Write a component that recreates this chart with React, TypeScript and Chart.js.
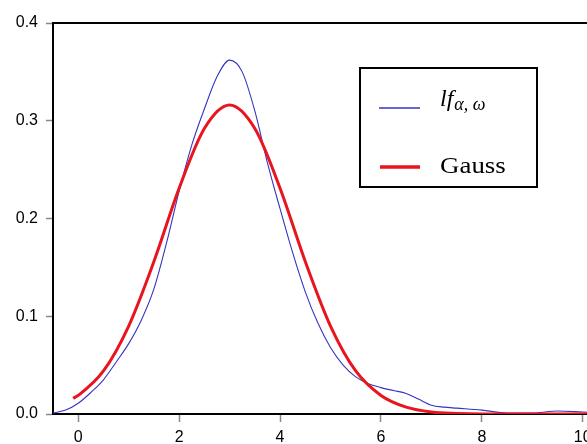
import React, { useEffect, useRef } from "react";
import { Chart, registerables } from "chart.js";

Chart.register(...registerables);

// lf_{α,ω} series (blue, thin)
const lfX = [-0.5, -0.25, 0, 0.25, 0.5, 0.75, 1, 1.25, 1.5, 1.75, 2, 2.25, 2.5, 2.75, 3, 3.25, 3.5, 3.75, 4, 4.25, 4.5, 4.75, 5, 5.25, 5.5, 5.75, 6, 6.25, 6.5, 6.75, 7, 7.25, 7.5, 8, 8.5, 9, 9.5, 10, 10.5];
const lfY = [0.001, 0.004, 0.011, 0.022, 0.035, 0.053, 0.072, 0.096, 0.128, 0.175, 0.228, 0.275, 0.312, 0.345, 0.362, 0.35, 0.31, 0.257, 0.21, 0.165, 0.125, 0.093, 0.068, 0.05, 0.038, 0.031, 0.027, 0.024, 0.021, 0.015, 0.009, 0.007, 0.006, 0.004, 0.001, 0.001, 0.003, 0.002, 0.001];

// Gauss series (red, thick)
const gaussX = [-0.1, 0, 0.5, 1, 1.5, 2, 2.5, 3, 3.5, 4, 4.5, 5, 5.5, 6, 6.5, 7, 7.5, 8, 9, 10, 10.5];
const gaussY = [0.016, 0.019, 0.044, 0.09, 0.156, 0.231, 0.292, 0.316, 0.292, 0.231, 0.156, 0.09, 0.044, 0.019, 0.007, 0.002, 0.0005, 0, 0, 0, 0];

const xTicks = [0, 2, 4, 6, 8, 10];
const yTicks = [0, 0.1, 0.2, 0.3, 0.4];

const legendLabels = { main: "lf", sub: "α, ω", gauss: "Gauss" };

const framePlugin = {
  id: "frame",
  afterDraw(chart: any) {
    const { ctx, chartArea } = chart;
    ctx.save();
    // top border line
    ctx.strokeStyle = "#000";
    ctx.lineWidth = 2;
    ctx.beginPath();
    ctx.moveTo(chartArea.left, chartArea.top);
    ctx.lineTo(chartArea.right, chartArea.top);
    ctx.stroke();

    // legend box
    const bx = 360, by = 68, bw = 177, bh = 119;
    ctx.fillStyle = "#fff";
    ctx.fillRect(bx, by, bw, bh);
    ctx.lineWidth = 2;
    ctx.strokeStyle = "#000";
    ctx.strokeRect(bx, by, bw, bh);

    // blue sample
    ctx.strokeStyle = "#3535c0";
    ctx.lineWidth = 1.3;
    ctx.beginPath();
    ctx.moveTo(379, 108);
    ctx.lineTo(420, 108);
    ctx.stroke();
    // red sample
    ctx.strokeStyle = "#e8141e";
    ctx.lineWidth = 3.5;
    ctx.beginPath();
    ctx.moveTo(380, 167);
    ctx.lineTo(420, 167);
    ctx.stroke();

    ctx.fillStyle = "#000";
    ctx.textBaseline = "alphabetic";
    ctx.textAlign = "left";
    ctx.font = "italic 24px 'Liberation Serif', 'Times New Roman', serif";
    ctx.fillText(legendLabels.main, 440, 106);
    const w = ctx.measureText(legendLabels.main).width;
    ctx.font = "italic 18px 'Liberation Serif', 'Times New Roman', serif";
    ctx.fillText(legendLabels.sub, 440 + w + 1, 110);
    ctx.font = "23px 'Liberation Serif', 'Times New Roman', serif";
    ctx.save();
    ctx.translate(440, 173);
    ctx.scale(1.17, 1);
    ctx.fillText(legendLabels.gauss, 0, 0);
    ctx.restore();
    ctx.restore();
  },
};

export default function App() {
  const ref = useRef<HTMLCanvasElement | null>(null);
  useEffect(() => {
    if (!ref.current) return;
    const chart = new Chart(ref.current, {
      type: "line",
      data: {
        datasets: [
          {
            label: "Gauss",
            data: gaussX.map((x, i) => ({ x, y: gaussY[i] })),
            borderColor: "#e8141e",
            borderWidth: 3,
            pointRadius: 0,
            cubicInterpolationMode: "monotone",
            fill: false,
          },
          {
            label: "lf α, ω",
            data: lfX.map((x, i) => ({ x, y: lfY[i] })),
            borderColor: "#3535c0",
            borderWidth: 1.1,
            pointRadius: 0,
            cubicInterpolationMode: "monotone",
            fill: false,
          },
        ],
      },
      options: {
        animation: false,
        responsive: false,
        devicePixelRatio: 1,
        events: [],
        layout: { padding: { top: 23, right: 0, left: 0, bottom: 0 } },
        plugins: { legend: { display: false }, tooltip: { enabled: false } },
        scales: {
          x: {
            type: "linear",
            min: -0.5,
            max: 10.5,
            afterFit(scale: any) {
              scale.height = 30;
            },
            afterBuildTicks(scale: any) {
              scale.ticks = xTicks.map((v) => ({ value: v }));
            },
            border: { display: true, color: "#000", width: 2 },
            grid: { drawOnChartArea: false, drawTicks: true, tickLength: 8, tickColor: "#888", tickWidth: 1.5 },
            ticks: {
              color: "#000",
              padding: 6,
              autoSkip: false,
              maxRotation: 0,
              font: { family: "'Liberation Sans', Arial, sans-serif", size: 16 },
              callback: (v: any) => String(v),
            },
          },
          y: {
            type: "linear",
            min: 0,
            max: 0.4,
            afterFit(scale: any) {
              scale.width = 53;
            },
            afterBuildTicks(scale: any) {
              scale.ticks = yTicks.map((v) => ({ value: v }));
            },
            border: { display: true, color: "#000", width: 2 },
            grid: { drawOnChartArea: false, drawTicks: true, tickLength: 7, tickColor: "#888", tickWidth: 1.5 },
            ticks: {
              color: "#000",
              padding: 8,
              font: { family: "'Liberation Sans', Arial, sans-serif", size: 16 },
              callback: (v: any) => Number(v).toFixed(1),
            },
          },
        },
      },
      plugins: [framePlugin],
    });
    return () => chart.destroy();
  }, []);

  return (
    <div style={{ position: "fixed", left: 0, top: 0, width: 587, height: 444, overflow: "hidden", background: "#fff" }}>
      <canvas ref={ref} width={608} height={444} style={{ width: 608, height: 444, display: "block" }} />
    </div>
  );
}
